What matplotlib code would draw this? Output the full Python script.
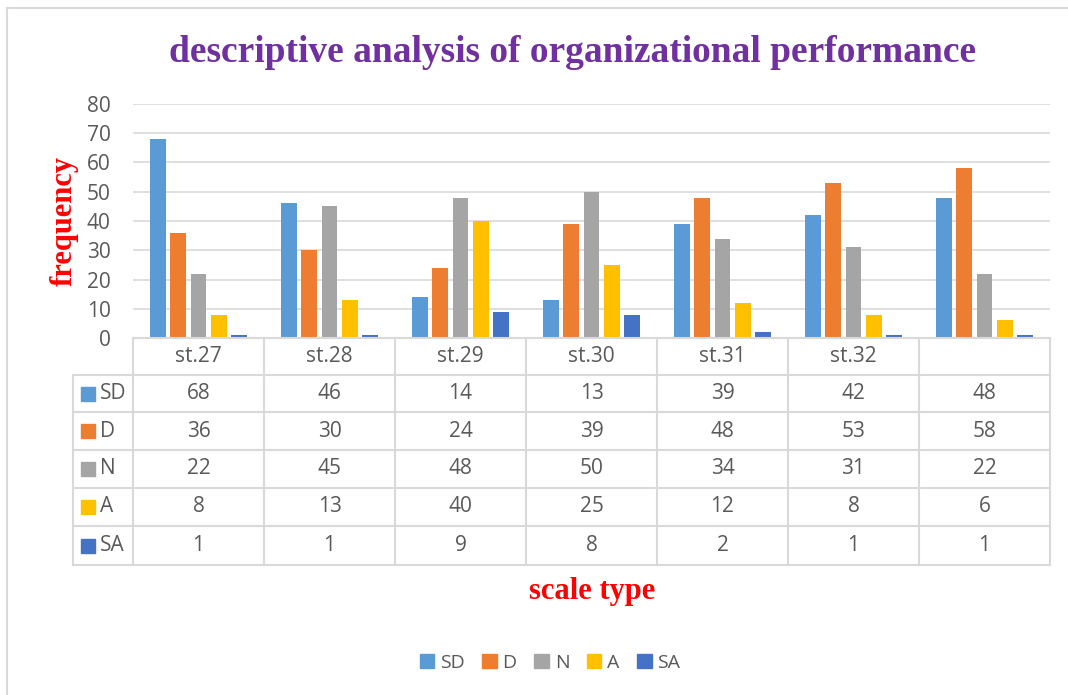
import matplotlib.pyplot as plt
import numpy as np
from matplotlib.patches import Rectangle
from matplotlib.lines import Line2D

W, H = 1068, 695

categories = ['st.27', 'st.28', 'st.29', 'st.30', 'st.31', 'st.32', '']
series_names = ['SD', 'D', 'N', 'A', 'SA']
sd = [68, 46, 14, 13, 39, 42, 48]
d = [36, 30, 24, 39, 48, 53, 58]
n = [22, 45, 48, 50, 34, 31, 22]
a = [8, 13, 40, 25, 12, 8, 6]
sa = [1, 1, 9, 8, 2, 1, 1]
yticks = [0, 10, 20, 30, 40, 50, 60, 70, 80]

colors = ['#5B9BD5', '#ED7D31', '#A5A5A5', '#FFC000', '#4472C4']
values = [sd, d, n, a, sa]

txt_col = '#595959'
grid_col = '#D9D9D9'
sans = 'Open Sans'
serif = 'Liberation Serif'
fs = 15


def fx(px):
    return px / W


def fy(py):
    return 1 - py / H


fig = plt.figure(figsize=(W / 100, H / 100), dpi=100)

# outer frame (left and top only visible)
fig.add_artist(Line2D([fx(7), fx(7)], [fy(8), 0], color=grid_col, lw=1.5))
fig.add_artist(Line2D([fx(7), 1], [fy(8), fy(8)], color=grid_col, lw=1.5))

# bar plot area
left, right, top, bot = 133, 1050, 104, 338
ax = fig.add_axes([fx(left), fy(bot), fx(right - left), (bot - top) / H])
x = np.arange(len(categories))
step = 0.153
bw = 0.122
for i, (vals, c) in enumerate(zip(values, colors)):
    ax.bar(x + (i - 2) * step, vals, width=bw, color=c, zorder=3)
ax.set_xlim(-0.5, len(categories) - 0.5)
ax.set_ylim(0, 80)
ax.set_yticks(yticks)
ax.set_xticks([])
ax.yaxis.grid(True, color=grid_col, lw=1.2, zorder=0)
for s in ax.spines.values():
    s.set_visible(False)
ax.tick_params(axis='y', length=0, labelsize=fs, labelcolor=txt_col, pad=16)
for lab in ax.get_yticklabels():
    lab.set_fontfamily(sans)

# data table
tl = 73
row_edges = [338, 375, 412, 450, 488, 526, 565]
col_w = (right - left) / len(categories)
lc = dict(color=grid_col, lw=1.5)
# horizontal lines
fig.add_artist(Line2D([fx(left), fx(right)], [fy(row_edges[0])] * 2, **lc))
for r in row_edges[1:]:
    fig.add_artist(Line2D([fx(tl), fx(right)], [fy(r)] * 2, **lc))
# vertical lines
fig.add_artist(Line2D([fx(tl)] * 2, [fy(row_edges[1]), fy(row_edges[-1])], **lc))
for j in range(len(categories) + 1):
    xp = left + j * col_w
    fig.add_artist(Line2D([fx(xp)] * 2, [fy(row_edges[0]), fy(row_edges[-1])], **lc))

# header
for j, cat in enumerate(categories):
    xc = left + (j + 0.5) * col_w
    fig.text(fx(xc), fy((row_edges[0] + row_edges[1]) / 2), cat, ha='center', va='center',
             fontsize=fs, color=txt_col, family=sans)
# rows
for i, (name, vals, c) in enumerate(zip(series_names, values, colors)):
    yc = (row_edges[i + 1] + row_edges[i + 2]) / 2
    fig.add_artist(Rectangle((fx(81), fy(yc + 7)), 14 / W, 14 / H, color=c,
                             transform=fig.transFigure))
    fig.text(fx(100), fy(yc), name, ha='left', va='center', fontsize=fs,
             color=txt_col, family=sans)
    for j, v in enumerate(vals):
        xc = left + (j + 0.5) * col_w
        fig.text(fx(xc), fy(yc), str(v), ha='center', va='center', fontsize=fs,
                 color=txt_col, family=sans)

# titles
fig.text(fx(573), fy(52), 'descriptive analysis of organizational performance', ha='center',
         va='center', fontsize=27, fontweight='bold', color='#7030A0', family=serif)
fig.text(fx(64), fy(221), 'frequency', ha='center', va='center', rotation=90,
         fontsize=22, fontweight='bold', color='red', family=serif)
fig.text(fx(592), fy(591), 'scale type', ha='center', va='center',
         fontsize=22, fontweight='bold', color='red', family=serif)

# legend
handles = [Rectangle((0, 0), 1, 1, color=c) for c in colors]
fig.legend(handles, series_names, loc='center', bbox_to_anchor=(fx(550), fy(663)),
           ncol=5, frameon=False, handlelength=0.75, handleheight=0.75,
           handletextpad=0.3, columnspacing=0.9,
           prop={'family': sans, 'size': 14}, labelcolor=txt_col)

fig.savefig('out.png', dpi=100)
